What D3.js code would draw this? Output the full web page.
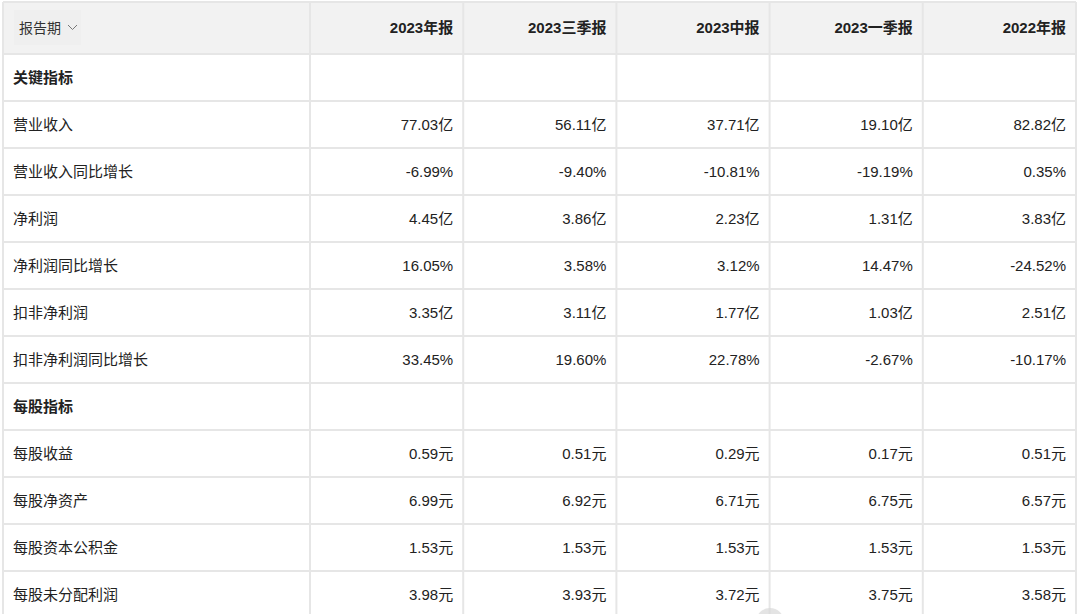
<!DOCTYPE html>
<html>
<head>
<meta charset="utf-8">
<script src="https://cdn.jsdelivr.net/npm/d3@7"></script>
<style>
body { margin: 0; background: #fff; }
svg text { font-family: "Liberation Sans", "Noto Sans CJK SC", sans-serif; }
</style>
</head>
<body>
<div id="tbl"></div>
<script>
// report periods (columns)
var periods = ["2023年报", "2023三季报", "2023中报", "2023一季报", "2022年报"];
// row labels, section headers have no values
var rowLabels = ["关键指标", "营业收入", "营业收入同比增长", "净利润", "净利润同比增长", "扣非净利润",
    "扣非净利润同比增长", "每股指标", "每股收益", "每股净资产", "每股资本公积金", "每股未分配利润"];
var sections = ["关键指标", "每股指标"];
var revenue = [77.03, 56.11, 37.71, 19.10, 82.82];
var revenueGrowth = [-6.99, -9.40, -10.81, -19.19, 0.35];
var netProfit = [4.45, 3.86, 2.23, 1.31, 3.83];
var netProfitGrowth = [16.05, 3.58, 3.12, 14.47, -24.52];
var deductedProfit = [3.35, 3.11, 1.77, 1.03, 2.51];
var deductedGrowth = [33.45, 19.60, 22.78, -2.67, -10.17];
var eps = [0.59, 0.51, 0.29, 0.17, 0.51];
var bvps = [6.99, 6.92, 6.71, 6.75, 6.57];
var capReservePs = [1.53, 1.53, 1.53, 1.53, 1.53];
var undistProfitPs = [3.98, 3.93, 3.72, 3.75, 3.58];

var rowValues = {
    "营业收入": [revenue, "亿"],
    "营业收入同比增长": [revenueGrowth, "%"],
    "净利润": [netProfit, "亿"],
    "净利润同比增长": [netProfitGrowth, "%"],
    "扣非净利润": [deductedProfit, "亿"],
    "扣非净利润同比增长": [deductedGrowth, "%"],
    "每股收益": [eps, "元"],
    "每股净资产": [bvps, "元"],
    "每股资本公积金": [capReservePs, "元"],
    "每股未分配利润": [undistProfitPs, "元"]
};

function drawTable(){
    var W = 1080, H = 614;
    var tLeft = 3, tRight = 1076, tTop = 2, headH = 52, rowH = 47, firstW = 307;
    var lineColor = "#e6e6e6";
    var fs = 15;

    var svg = d3.select("#tbl").append("svg")
        .attr("width", W)
        .attr("height", H);

    var x = d3.scaleBand()
        .domain(periods)
        .range([tLeft + firstW, tRight]);
    var y = d3.scaleBand()
        .domain(rowLabels)
        .range([tTop + headH, tTop + headH + rowH * rowLabels.length]);

    // header background
    svg.append("rect")
        .attr("x", tLeft).attr("y", tTop)
        .attr("width", tRight - tLeft).attr("height", headH)
        .attr("fill", "#f2f2f2");
    // faint box around the dropdown label
    svg.append("rect")
        .attr("x", 14).attr("y", 10)
        .attr("width", 67).attr("height", 35)
        .attr("fill", "#efefef");

    // horizontal lines
    var hLines = [tTop, tTop + headH].concat(rowLabels.map(r => y(r) + y.bandwidth()));
    hLines.forEach(function(yy){
        svg.append("line")
            .attr("x1", tLeft).attr("x2", tRight)
            .attr("y1", yy).attr("y2", yy)
            .attr("stroke", lineColor)
            .attr("stroke-width", 2);
    });
    // vertical lines
    var vLines = [tLeft, tLeft + firstW].concat(periods.map(p => x(p) + x.bandwidth()));
    vLines.forEach(function(xx){
        svg.append("line")
            .attr("x1", xx).attr("x2", xx)
            .attr("y1", tTop).attr("y2", H)
            .attr("stroke", lineColor)
            .attr("stroke-width", 2);
    });

    // header texts
    svg.append("text")
        .attr("x", 19).attr("y", tTop + headH / 2)
        .attr("dy", "0.35em")
        .attr("font-size", 14)
        .attr("fill", "#333")
        .text("报告期");
    // chevron
    svg.append("path")
        .attr("d", "M68,25 L72.5,29.5 L77,25")
        .attr("fill", "none")
        .attr("stroke", "#777")
        .attr("stroke-width", 1);

    periods.forEach(function(p){
        svg.append("text")
            .attr("x", x(p) + x.bandwidth() - 10)
            .attr("y", tTop + headH / 2)
            .attr("dy", "0.35em")
            .attr("text-anchor", "end")
            .attr("font-size", fs)
            .attr("font-weight", "bold")
            .attr("fill", "#222")
            .text(p);
    });

    // rows
    rowLabels.forEach(function(r){
        var cy = y(r) + y.bandwidth() / 2;
        var isSection = sections.indexOf(r) >= 0;
        svg.append("text")
            .attr("x", 13).attr("y", cy)
            .attr("dy", "0.35em")
            .attr("font-size", fs)
            .attr("font-weight", isSection ? "bold" : "normal")
            .attr("fill", "#222")
            .text(r);
        if (isSection) return;
        var vals = rowValues[r][0], unit = rowValues[r][1];
        periods.forEach(function(p, i){
            svg.append("text")
                .attr("x", x(p) + x.bandwidth() - 10)
                .attr("y", cy)
                .attr("dy", "0.35em")
                .attr("text-anchor", "end")
                .attr("font-size", fs)
                .attr("fill", "#222")
                .text(vals[i].toFixed(2) + unit);
        });
    });

    // watermark remnant at the bottom
    svg.append("circle")
        .attr("cx", 770).attr("cy", 622)
        .attr("r", 14)
        .attr("fill", "#d8d8d8")
        .attr("opacity", 0.7);
}
drawTable();
</script>
</body>
</html>
